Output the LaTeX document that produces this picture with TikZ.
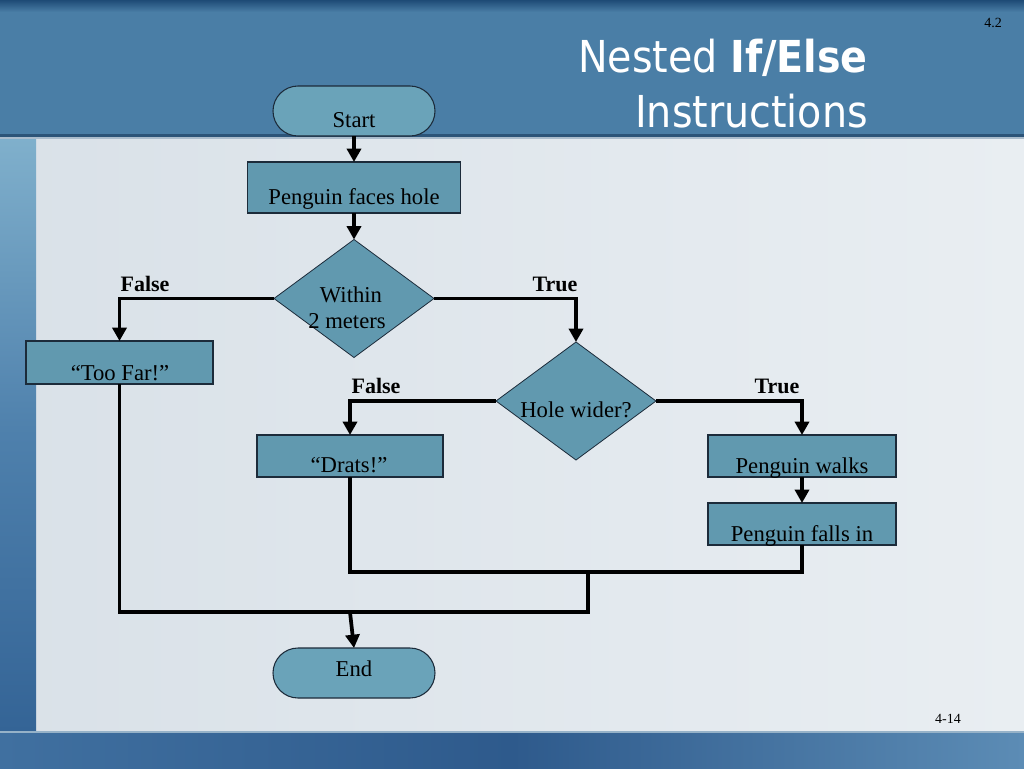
\documentclass[tikz,border=0pt]{standalone}
\usepackage{fontspec}
\setmainfont{Liberation Serif}
\newfontfamily\titlefont{DejaVu Sans Condensed}
\usetikzlibrary{shapes.geometric,arrows.meta}
\definecolor{bandblue}{HTML}{4A7EA6}
\definecolor{banddark}{HTML}{1E4B76}
\definecolor{bandedge}{HTML}{2C5478}
\definecolor{bandlight}{HTML}{AABCCC}
\definecolor{boxfill}{HTML}{6199AF}
\definecolor{termfill}{HTML}{6AA3B9}
\definecolor{boxline}{HTML}{1C2B3A}
\definecolor{bglight}{HTML}{E9EEF2}
\definecolor{bgmid}{HTML}{D9E1E8}
\definecolor{striptop}{HTML}{80B0CC}
\definecolor{stripmid}{HTML}{4E80AC}
\definecolor{stripbot}{HTML}{346496}
\definecolor{botleft}{HTML}{4070A0}
\definecolor{botmid}{HTML}{2E5A8C}
\definecolor{botright}{HTML}{5C8CB5}
\definecolor{botedge}{HTML}{96B2C8}
\tikzset{
  procbox/.style={draw=boxline, line width=0.8pt, fill=boxfill, rectangle, inner sep=0pt, outer sep=0pt},
  termbox/.style={draw=boxline, line width=0.8pt, fill=termfill, rectangle, rounded corners=18.75pt, inner sep=0pt, outer sep=0pt,
     minimum width=121.5pt, minimum height=37.5pt},
  decbox/.style={draw=boxline, line width=0.6pt, fill=boxfill, diamond, inner sep=0pt, outer sep=0pt,
     minimum width=120pt, minimum height=88.5pt},
  boxtext/.style={font=\fontsize{17}{19}\selectfont, text=black, anchor=base, inner sep=0pt},
  lbltext/.style={font=\fontsize{16.5}{19}\selectfont\bfseries, text=black, anchor=base, inner sep=0pt},
  titletext/.style={anchor=base east, inner sep=0pt, text=white, font=\titlefont\fontsize{33}{36}\selectfont},
  flow/.style={line width=2.8pt, draw=black},
  arr/.style={flow, -{Triangle[width=10.5pt,length=10pt]}},
}
\begin{document}
\begin{tikzpicture}[x=0.75pt,y=-0.75pt]
\useasboundingbox (0,0) rectangle (1024,768);
% background
\shade[left color=bgmid, right color=bglight] (0,0) rectangle (1024,768);
% left strip
\shade[top color=striptop, bottom color=stripbot, middle color=stripmid] (0,137) rectangle (36,732);
% top band
\fill[bandblue] (0,0) rectangle (1024,135);
\shade[top color=banddark, bottom color=bandblue] (0,0) rectangle (1024,12);
\fill[bandedge] (0,134) rectangle (1024,137);
\fill[bandlight] (0,137) rectangle (1024,139);
% bottom band
\shade[left color=botleft, right color=botright, middle color=botmid] (0,732) rectangle (1024,768);
\fill[botedge] (0,731) rectangle (1024,733);
% title
\node[titletext] (title1) at (868,72) {Nested \textbf{If/Else}};
\node[titletext] (title2) at (868,127) {Instructions};
\node[anchor=base, inner sep=0pt, font=\fontsize{10.5}{12}\selectfont] (secnum) at (993,27) {4.2};
\node[anchor=base, inner sep=0pt, font=\fontsize{10.5}{12}\selectfont] (pagenum) at (948,723) {4-14};
% shapes
\node[termbox] (start) at (354,111) {};
\node[procbox, minimum width=159.75pt, minimum height=38.25pt] (faces) at (354,187.5) {};
\node[decbox] (within) at (354,298.5) {};
\node[procbox, minimum width=140.25pt, minimum height=32.25pt] (toofar) at (119.5,362.5) {};
\node[decbox] (hole) at (576,401) {};
\node[procbox, minimum width=139.5pt, minimum height=31.5pt] (drats) at (350,456) {};
\node[procbox, minimum width=141pt, minimum height=31.5pt] (walks) at (802,456) {};
\node[procbox, minimum width=141pt, minimum height=31.5pt] (falls) at (802,524) {};
\node[termbox] (end) at (354,673) {};
% texts
\node[boxtext] (startT) at (354,127) {Start};
\node[boxtext] (facesT) at (354,204) {Penguin faces hole};
\node[boxtext] (withinT1) at (351,302) {Within};
\node[boxtext] (withinT2) at (347,328) {2 meters};
\node[boxtext] (toofarT) at (120,380) {“Too Far!”};
\node[boxtext] (holeT) at (576,417) {Hole wider?};
\node[boxtext] (dratsT) at (349,472) {“Drats!”};
\node[boxtext] (walksT) at (802,473) {Penguin walks};
\node[boxtext] (fallsT) at (802,541) {Penguin falls in};
\node[boxtext] (endT) at (354,676) {End};
% connector labels
\node[lbltext] (lf1) at (145,291) {False};
\node[lbltext] (lt1) at (555,291) {True};
\node[lbltext] (lf2) at (376,393) {False};
\node[lbltext] (lt2) at (777,393) {True};
% connectors
\draw[arr] (start.south) -- (faces.north);
\draw[arr] (faces.south) -- (within.north);
\draw[arr] (within.west) -| (toofar.north);
\draw[arr] (within.east) -| (hole.north);
\draw[arr] (hole.west) -| (drats.north);
\draw[arr] (hole.east) -| (walks.north);
\draw[arr] (walks.south) -- (falls.north);
\coordinate (j1) at (588,572);
\coordinate (j2) at (350,612);
\draw[flow] (falls.south) |- (j1) -| (drats.south);
\draw[flow] (j1) |- (j2) -| (toofar.south);
\draw[arr] (j2) -- (end.north);
\end{tikzpicture}
\end{document}
